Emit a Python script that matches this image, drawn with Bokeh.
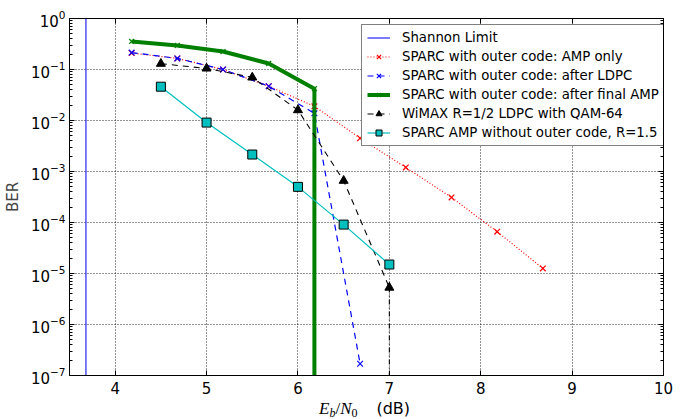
from bokeh.plotting import figure
from bokeh.layouts import column
from bokeh.models import (FixedTicker, LinearAxis, Legend, LegendItem, Div,
                          CustomJSTickFormatter)
from bokeh.embed import file_html
from bokeh.resources import INLINE

# ---------------- data ----------------
shannon_snr = [3.68, 3.68]
shannon_ber = [1e-7, 1.0]

snr_amp_only = [4.18, 4.68, 5.18, 5.68, 6.18, 6.68, 7.18, 7.68, 8.18, 8.68]
ber_amp_only = [0.21, 0.165, 0.1, 0.047, 0.019, 4.5e-3, 1.2e-3, 3.1e-4, 6.6e-5, 1.26e-5]

snr_ldpc = [4.18, 4.68, 5.18, 5.68, 6.18, 6.68]
ber_ldpc = [0.215, 0.165, 0.1, 0.047, 0.0138, 1.7e-7]

snr_final = [4.18, 4.68, 5.18, 5.68, 6.18, 6.18]
ber_final = [0.355, 0.296, 0.225, 0.131, 0.042, 1e-9]

snr_wimax = [4.5, 5.0, 5.5, 6.0, 6.5, 7.0]
ber_wimax = [0.13, 0.105, 0.07, 0.016, 6.6e-4, 5.3e-6]
snr_wimax_tail = [7.0, 7.0]
ber_wimax_tail = [5.3e-6, 1e-9]

snr_uncoded = [4.5, 5.0, 5.5, 6.0, 6.5, 7.0]
ber_uncoded = [0.046, 0.0091, 2.15e-3, 5e-4, 9.1e-5, 1.5e-5]

x_ticks = [4, 5, 6, 7, 8, 9, 10]
y_ticks = [10.0 ** k for k in range(-7, 1)]
y_minor = [m * 10.0 ** k for k in range(-7, 0) for m in range(2, 10)]

FONT = "DejaVu Sans"

p = figure(width=682, height=401, x_range=(3.5, 10), y_range=(1e-7, 1),
           y_axis_type="log", output_backend="svg", toolbar_location=None,
           min_border_left=64, min_border_right=19, min_border_top=18,
           min_border_bottom=26)
p.outline_line_color = "black"
p.background_fill_color = "white"
p.border_fill_color = "white"

# grid
for g in (p.xgrid, p.ygrid):
    g.grid_line_color = "black"
    g.grid_line_dash = "1 2"
    g.grid_line_width = 1
    g.grid_line_alpha = 0.85
p.ygrid.minor_grid_line_color = None

# axes
p.xaxis.ticker = FixedTicker(ticks=x_ticks)
p.yaxis.ticker = FixedTicker(ticks=y_ticks, minor_ticks=y_minor)
for ax in (p.xaxis, p.yaxis):
    ax.major_tick_in = 5
    ax.major_tick_out = 0
    ax.minor_tick_in = 3
    ax.minor_tick_out = 0
    ax.major_label_text_font = FONT
    ax.major_label_text_font_size = "15px"
    ax.major_label_text_color = "black"
    ax.axis_line_color = "black"
    ax.major_tick_line_color = "black"
    ax.minor_tick_line_color = "black"
p.xaxis.major_label_standoff = 6
p.yaxis.major_label_standoff = 4
p.yaxis.axis_label = "BER"
p.yaxis.axis_label_text_font = FONT
p.yaxis.axis_label_text_font_size = "15px"
p.yaxis.axis_label_text_font_style = "normal"
p.yaxis.axis_label_standoff = 6

blank = CustomJSTickFormatter(code="return ''")
right_ax = LinearAxis(ticker=FixedTicker(ticks=y_ticks, minor_ticks=y_minor),
                      formatter=blank, major_tick_in=5, major_tick_out=0,
                      minor_tick_in=3, minor_tick_out=0, major_label_standoff=0,
                      major_label_text_font_size="1px")
top_ax = LinearAxis(ticker=FixedTicker(ticks=x_ticks), formatter=blank,
                    major_tick_in=5, major_tick_out=0, minor_tick_in=0,
                    minor_tick_out=0, major_label_standoff=0,
                    major_label_text_font_size="1px")
p.add_layout(right_ax, "right")
p.add_layout(top_ax, "above")

# ---------------- series ----------------
r_sh = p.line(shannon_snr, shannon_ber, line_color="#0000ff", line_width=1.3, line_alpha=0.8)

r_amp_l = p.line(snr_amp_only, ber_amp_only, line_color="#ff0000", line_dash="1 2", line_width=1.2)
r_amp_m = p.scatter(snr_amp_only, ber_amp_only, marker="x", size=8, line_color="#ff0000", line_width=1.2)

r_ldpc_l = p.line(snr_ldpc, ber_ldpc, line_color="#0000ff", line_dash="6 5", line_width=1.2)
r_ldpc_m = p.scatter(snr_ldpc, ber_ldpc, marker="x", size=8, line_color="#0000ff", line_width=1.2)

r_fin_l = p.line(snr_final, ber_final, line_color="#008000", line_width=4)
r_fin_m = p.scatter(snr_final, ber_final, marker="x", size=7, line_color="#008000", line_width=1.2)

r_wi_l = p.line(snr_wimax, ber_wimax, line_color="black", line_dash="6 5", line_width=1.1)
r_wi_t = p.line(snr_wimax_tail, ber_wimax_tail, line_color="black", line_dash="5 3 1 3", line_width=1.1)
r_wi_m = p.scatter(snr_wimax, ber_wimax, marker="triangle", size=9, fill_color="black", line_color="black")

r_un_l = p.line(snr_uncoded, ber_uncoded, line_color="#00bfbf", line_width=1.2)
r_un_m = p.scatter(snr_uncoded, ber_uncoded, marker="square", size=9, fill_color="#00bfbf",
                   line_color="black", line_width=1)

legend = Legend(items=[
    LegendItem(label="Shannon Limit", renderers=[r_sh]),
    LegendItem(label="SPARC with outer code: AMP only", renderers=[r_amp_l, r_amp_m]),
    LegendItem(label="SPARC with outer code: after LDPC", renderers=[r_ldpc_l, r_ldpc_m]),
    LegendItem(label="SPARC with outer code: after final AMP", renderers=[r_fin_l, r_fin_m]),
    LegendItem(label="WiMAX R=1/2 LDPC with QAM-64", renderers=[r_wi_l, r_wi_m]),
    LegendItem(label="SPARC AMP without outer code, R=1.5", renderers=[r_un_l, r_un_m]),
], location=(292, 229))
legend.margin = 0
legend.padding = 5
legend.spacing = 4
legend.glyph_height = 15
legend.label_height = 15
legend.glyph_width = 23
legend.label_standoff = 12
legend.label_text_font = FONT
legend.label_text_font_size = "13.3px"
legend.label_text_color = "black"
legend.border_line_color = "black"
legend.border_line_width = 1
legend.background_fill_alpha = 1
p.add_layout(legend, "center")

# ---------------- x-axis label (HTML with sub-scripts) ----------------
ser = "font-family:'Liberation Serif',serif;font-style:italic;"
xlabel_html = (
    "<div style=\"white-space:nowrap;line-height:1;position:relative;"
    "left:319px;top:-1px;color:black;\">"
    f"<span style=\"{ser}font-size:17px;\">E</span>"
    f"<span style=\"{ser}font-size:12px;position:relative;top:3px;\">b</span>"
    "<span style=\"font-family:'Liberation Serif',serif;font-size:17px;\">/</span>"
    f"<span style=\"{ser}font-size:17px;\">N</span>"
    "<span style=\"font-family:'Liberation Serif',serif;font-size:12px;position:relative;top:3px;\">0</span>"
    "<span style=\"font-family:'DejaVu Sans';font-size:16px;margin-left:19px;\">(dB)</span>"
    "</div>"
)
xlabel = Div(text=xlabel_html, width=682, height=16, margin=(0, 0, 0, 0))

layout = column(p, xlabel, spacing=0)
open("out.html", "w").write(file_html(layout, INLINE))
